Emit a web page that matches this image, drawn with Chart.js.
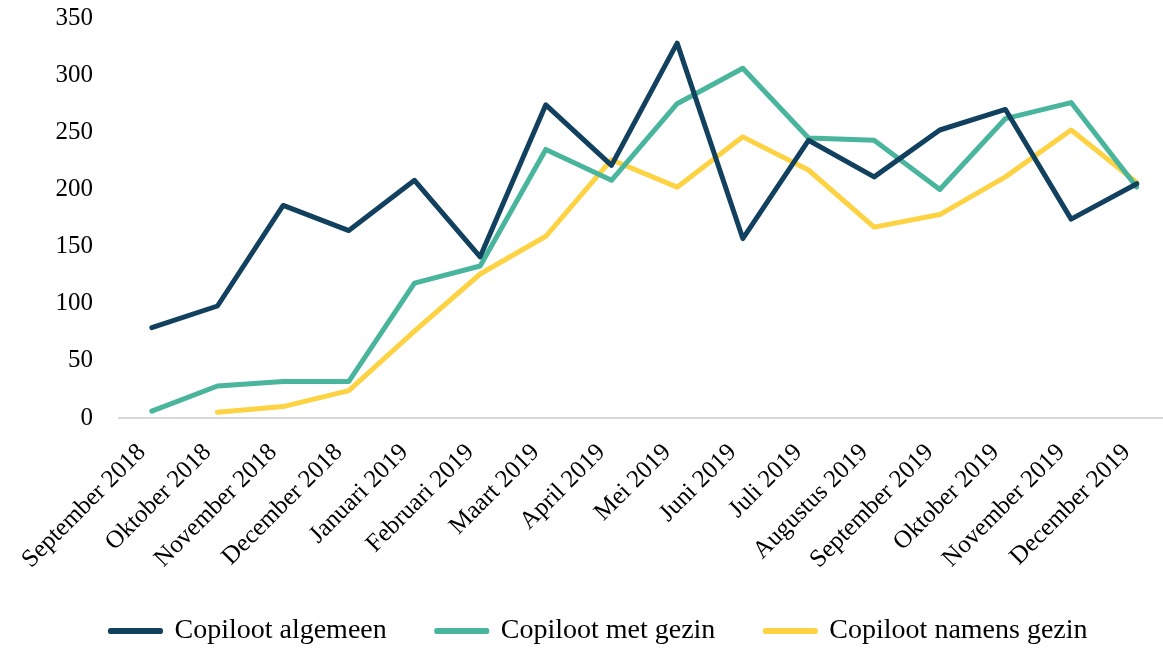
<!DOCTYPE html>
<html>
<head>
<meta charset="utf-8">
<script src="https://cdn.jsdelivr.net/npm/chart.js@4/dist/chart.umd.min.js"></script>
<style>
  html, body { margin: 0; padding: 0; background: #fff; overflow: hidden; }
  #wrap { width: 1170px; height: 648px; }
</style>
</head>
<body>
<div id="wrap"><canvas id="lineChart"></canvas></div>
<script>
// data
const months = ['September 2018', 'Oktober 2018', 'November 2018', 'December 2018',
    'Januari 2019', 'Februari 2019', 'Maart 2019', 'April 2019', 'Mei 2019', 'Juni 2019',
    'Juli 2019', 'Augustus 2019', 'September 2019', 'Oktober 2019', 'November 2019', 'December 2019'];
const algemeen = [79, 98, 186, 164, 208, 141, 274, 221, 328, 157, 243, 211, 252, 270, 174, 205];
const metGezin = [6, 28, 32, 32, 118, 133, 235, 208, 275, 306, 245, 243, 200, 262, 276, 202];
const namensGezin = [null, 5, 10, 24, 76, 126, 159, 226, 202, 246, 217, 167, 178, 211, 252, 206];
const seriesNames = ['Copiloot algemeen', 'Copiloot met gezin', 'Copiloot namens gezin'];
const colors = ['#12405f', '#48b59c', '#fdd344'];

function lineSet(label, data, color) {
    return { label, data, borderColor: color, backgroundColor: color, borderWidth: 5,
        borderCapStyle: 'round', borderJoinStyle: 'round', pointRadius: 0, tension: 0, spanGaps: false };
}

// nudge the legend to the right, like the reference
const legendShift = {
    id: 'legendShift',
    afterLayout(chart) {
        if (chart.legend) { chart.legend.left += 14; chart.legend.right += 14; }
    }
};

new Chart(document.getElementById('lineChart').getContext('2d'), {
    type: 'line',
    data: {
        labels: months,
        datasets: [
            lineSet(seriesNames[0], algemeen, colors[0]),
            lineSet(seriesNames[1], metGezin, colors[1]),
            lineSet(seriesNames[2], namensGezin, colors[2])
        ]
    },
    options: {
        responsive: true, maintainAspectRatio: false, animation: false,
        layout: { padding: { top: 0, left: 0, right: 0, bottom: -7 } },
        plugins: {
            legend: {
                position: 'bottom',
                labels: { boxWidth: 50, boxHeight: 1, padding: 50, color: '#000',
                    font: { family: '"Liberation Serif", serif', size: 28 } }
            },
            tooltip: { enabled: false }
        },
        scales: {
            x: {
                offset: true,
                grid: { display: false },
                border: { display: true, color: '#d9d9d9', width: 2 },
                afterFit(s) { s.height = 149; },
                ticks: { minRotation: 45, maxRotation: 45, autoSkip: false, color: '#000',
                    padding: 12, labelOffset: -10,
                    font: { family: '"Liberation Serif", serif', size: 25 } }
            },
            y: {
                min: 0, max: 350,
                grid: { display: false },
                border: { display: false },
                afterFit(s) { s.width = 119; s.paddingTop = 18; s.paddingBottom = 0; },
                ticks: { stepSize: 50, color: '#000', padding: 18,
                    font: { family: '"Liberation Serif", serif', size: 25 } }
            }
        }
    },
    plugins: [legendShift]
});
</script>
</body>
</html>
